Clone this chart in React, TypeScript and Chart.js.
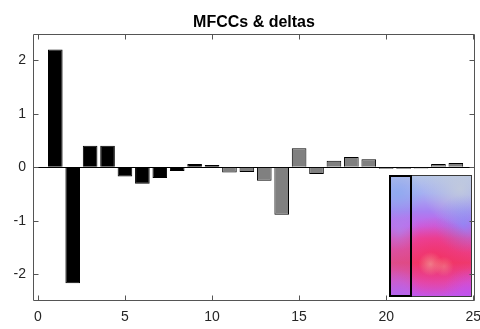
import React, { useEffect, useRef } from 'react';
import { Chart, registerables } from 'chart.js';

Chart.register(...registerables);

const titleText = 'MFCCs & deltas';
const mfccIdx = [1, 2, 3, 4, 5, 6, 7, 8, 9, 10];
const mfccVals = [2.2, -2.17, 0.4, 0.4, -0.175, -0.31, -0.2, -0.07, 0.06, 0.04];
const deltaIdx = [11, 12, 13, 14, 15, 16, 17, 18, 19, 20, 21, 22, 23, 24];
const deltaVals = [-0.1, -0.09, -0.25, -0.89, 0.355, -0.125, 0.12, 0.19, 0.15, -0.03, -0.03, -0.025, 0.06, 0.08];
const xTickVals = [0, 5, 10, 15, 20, 25];
const yTickVals = [-2, -1, 0, 1, 2];

const FONT = "'Liberation Sans', Arial, Helvetica, sans-serif";
const AXIS_COLOR = '#555555';

const insetPlugin = {
  id: 'insetAndBox',
  afterDatasetsDraw(chart: any) {
    const { ctx, chartArea, scales } = chart;
    const x = scales.x;
    const y = scales.y;
    // decorative inset picture (spectrogram-like)
    const L = Math.round(x.getPixelForValue(20.16));
    const R = Math.round(x.getPixelForValue(24.91));
    const T = Math.round(y.getPixelForValue(-0.145));
    const B = Math.round(y.getPixelForValue(-2.42));
    const S = Math.round(x.getPixelForValue(21.4));
    const w = R - L;
    const h = B - T;
    ctx.save();
    ctx.beginPath();
    ctx.rect(L, T, w, h);
    ctx.clip();
    const g = ctx.createLinearGradient(0, T, 0, B);
    g.addColorStop(0, '#b8c8e6');
    g.addColorStop(0.15, '#a6b0f2');
    g.addColorStop(0.3, '#a880f2');
    g.addColorStop(0.42, '#c860e8');
    g.addColorStop(0.52, '#e844a8');
    g.addColorStop(0.72, '#ee3a70');
    g.addColorStop(0.88, '#e04cbc');
    g.addColorStop(1, '#c058f0');
    ctx.fillStyle = g;
    ctx.fillRect(L, T, w, h);
    const blob = (cx: number, cy: number, r: number, c0: string, c1: string) => {
      const rg = ctx.createRadialGradient(cx, cy, 0, cx, cy, r);
      rg.addColorStop(0, c0);
      rg.addColorStop(1, c1);
      ctx.fillStyle = rg;
      ctx.fillRect(L, T, w, h);
    };
    blob(R - 12, T + 14, w * 0.45, 'rgba(196,204,218,0.85)', 'rgba(196,204,218,0)');
    blob(R - 8, T + h * 0.4, w * 0.35, 'rgba(120,150,248,0.6)', 'rgba(120,150,248,0)');
    blob(L + 8, T + 18, w * 0.32, 'rgba(130,175,240,0.7)', 'rgba(130,175,240,0)');
    blob(L + 10, T + h * 0.45, w * 0.25, 'rgba(170,140,240,0.5)', 'rgba(170,140,240,0)');
    blob(L + w * 0.55, T + h * 0.68, w * 0.5, 'rgba(246,44,84,0.55)', 'rgba(246,44,84,0)');
    blob(L + w * 0.5, T + h * 0.73, 12, 'rgba(240,170,160,0.6)', 'rgba(240,170,160,0)');
    blob(L + w * 0.66, T + h * 0.75, 10, 'rgba(240,160,150,0.45)', 'rgba(240,160,150,0)');
    blob(L + w * 0.1, T + h * 0.98, w * 0.3, 'rgba(180,90,240,0.6)', 'rgba(180,90,240,0)');
    blob(R - 4, B - 4, w * 0.3, 'rgba(190,80,240,0.6)', 'rgba(190,80,240,0)');
    ctx.fillStyle = 'rgba(160,150,240,0.2)';
    ctx.fillRect(L, T, S - L, h);
    ctx.restore();
    ctx.save();
    ctx.strokeStyle = '#3a3a3a';
    ctx.lineWidth = 1;
    ctx.strokeRect(L + 0.5, T + 0.5, w - 1, h - 1);
    ctx.strokeStyle = '#000000';
    ctx.lineWidth = 2;
    ctx.strokeRect(L + 1, T + 1, S - L - 1, h - 2);
    ctx.restore();

    // box and inward ticks
    const l = Math.round(chartArea.left) + 0.5;
    const r = Math.round(chartArea.right) - 0.5;
    const t = Math.round(chartArea.top) + 0.5;
    const b = Math.round(chartArea.bottom) - 0.5;
    ctx.save();
    ctx.strokeStyle = AXIS_COLOR;
    ctx.lineWidth = 1;
    ctx.beginPath();
    ctx.rect(l, t, r - l, b - t);
    const tl = 5;
    x.ticks.forEach((tk: any) => {
      const px = Math.round(x.getPixelForValue(tk.value)) + 0.5;
      ctx.moveTo(px, b);
      ctx.lineTo(px, b - tl);
      ctx.moveTo(px, t);
      ctx.lineTo(px, t + tl);
    });
    y.ticks.forEach((tk: any) => {
      const py = Math.round(y.getPixelForValue(tk.value)) + 0.5;
      ctx.moveTo(l, py);
      ctx.lineTo(l + tl, py);
      ctx.moveTo(r, py);
      ctx.lineTo(r - tl, py);
    });
    ctx.stroke();
    ctx.restore();
  },
};

export default function App() {
  const canvasRef = useRef<HTMLCanvasElement | null>(null);

  useEffect(() => {
    document.body.style.margin = '0';
    const canvas = canvasRef.current;
    if (!canvas) return;
    const chart = new Chart(canvas, {
      type: 'bar',
      data: {
        datasets: [
          {
            label: 'MFCCs',
            data: mfccIdx.map((v, i) => ({ x: v, y: mfccVals[i] })),
            backgroundColor: '#000000',
            borderColor: '#000000',
            borderWidth: 1,
            grouped: false,
            barPercentage: 0.84,
            categoryPercentage: 1,
          },
          {
            label: 'deltas',
            data: deltaIdx.map((v, i) => ({ x: v, y: deltaVals[i] })),
            backgroundColor: '#808080',
            borderColor: '#000000',
            borderWidth: 1,
            grouped: false,
            barPercentage: 0.84,
            categoryPercentage: 1,
          },
        ],
      } as any,
      options: {
        responsive: false,
        animation: false,
        layout: { padding: { left: 0, right: 5, top: 0, bottom: 0 } },
        plugins: {
          legend: { display: false },
          tooltip: { enabled: false },
          title: {
            display: true,
            text: titleText,
            fullSize: false,
            color: '#000000',
            font: { family: FONT, size: 16, weight: 'bold' },
            padding: { top: 12.5, bottom: 1.8 },
          },
        },
        scales: {
          x: {
            type: 'linear',
            min: -0.28,
            max: 25.1,
            offset: false,
            afterBuildTicks: (s: any) => {
              s.ticks = xTickVals.map((v) => ({ value: v }));
            },
            afterFit: (s: any) => {
              s.height = 28;
              s.paddingLeft = 0;
              s.paddingRight = 0;
            },
            grid: { display: false, drawTicks: false },
            border: { display: false },
            ticks: {
              color: '#262626',
              font: { family: FONT, size: 14 },
              padding: 8,
              maxRotation: 0,
              autoSkip: false,
            },
          },
          y: {
            type: 'linear',
            min: -2.5,
            max: 2.5,
            afterBuildTicks: (s: any) => {
              s.ticks = yTickVals.map((v) => ({ value: v }));
            },
            afterFit: (s: any) => {
              s.width = 33;
              s.paddingTop = 0;
              s.paddingBottom = 0;
            },
            grid: {
              display: true,
              drawTicks: false,
              color: (c: any) => (c.tick && c.tick.value === 0 ? '#000000' : 'rgba(0,0,0,0)'),
              lineWidth: 1,
            },
            border: { display: false },
            ticks: {
              color: '#262626',
              font: { family: FONT, size: 14 },
              padding: 7,
              autoSkip: false,
            },
          },
        },
      } as any,
      plugins: [insetPlugin],
    });
    return () => chart.destroy();
  }, []);

  return (
    <div style={{ position: 'absolute', left: 0, top: 0, width: 480, height: 329 }}>
      <canvas ref={canvasRef} width={480} height={329} style={{ width: 480, height: 329, display: 'block' }} />
    </div>
  );
}
